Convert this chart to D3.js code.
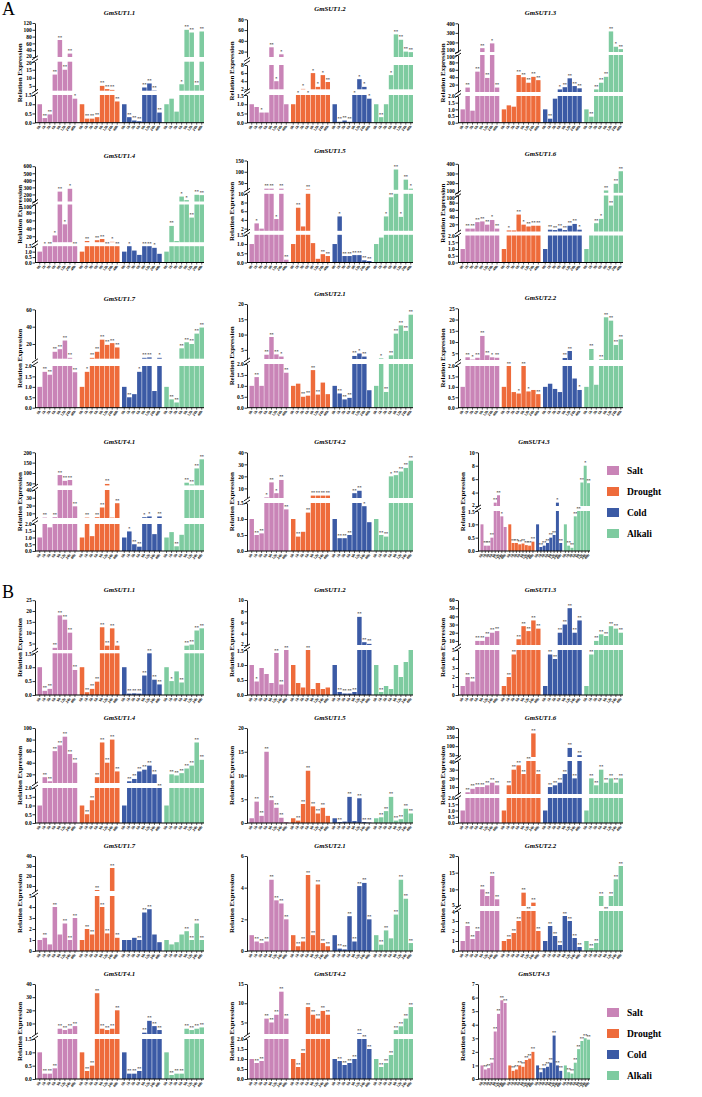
<!DOCTYPE html>
<html lang="en">
<head>
<meta charset="utf-8">
<script src="https://cdnjs.cloudflare.com/ajax/libs/d3/7.8.5/d3.min.js"></script>
<style>
    body { margin: 0; background: #fff; }
    svg text { font-family: "Liberation Serif", "DejaVu Serif", serif; }
</style>
</head>
<body>
<svg id="chart"></svg>
<script>
    const width = 702;
    const height = 1097;

    const groups = ['Salt', 'Drought', 'Cold', 'Alkali'];
    const colors = ['#c984b7', '#ee6b3b', '#3b5aa5', '#7ecba0'];
    const times = ['0h', '1h', '3h', '6h', '9h', '12h', '24h', '48h'];
    const genes = ['GmSUT1.1', 'GmSUT1.2', 'GmSUT1.3', 'GmSUT1.4', 'GmSUT1.5', 'GmSUT1.6',
                   'GmSUT1.7', 'GmSUT2.1', 'GmSUT2.2', 'GmSUT4.1', 'GmSUT4.2', 'GmSUT4.3'];

    // ---- section A values: [salt, drought, cold, alkali] ----
    const A11 = [[1.0, 0.25, 0.45, 12, 70, 15, 30, 1.3], [1.0, 0.22, 0.22, 0.3, 5, 3, 2.5, 1.15],
                 [1.0, 0.3, 0.12, 0.08, 4, 6.5, 2.2, 0.55], [1.0, 1.3, 0.6, 6, 100, 92, 5.5, 95]];
    const A12 = [[1.0, 0.85, 0.55, 0.55, 28, 4, 15, 1.0], [1.0, 1.8, 2.1, 1.9, 6, 2.6, 5.5, 3.8],
                 [1.0, 0.05, 0.12, 0.05, 2, 4.5, 2.6, 1.3], [1.0, 0.3, 1.0, 5.5, 52, 42, 20, 19]];
    const A13 = [[1.0, 12, 0.9, 55, 140, 38, 190, 12], [1.0, 1.3, 1.2, 46, 40, 25, 41, 32],
                 [1.0, 0.3, 1.8, 7, 13, 37, 16, 10], [1.0, 0.45, 7, 25, 41, 315, 155, 130]];
    const A14 = [[1.0, 5, 4, 22, 240, 50, 280, 2], [1.0, 8, 5, 10, 13, 5, 6, 5],
                 [1.0, 3, 1.1, 0.7, 4, 4.5, 1.35, 0.8], [1.0, 46, 8, 170, 120, 67, 195, 190]];
    const A15 = [[1.0, 3.2, 2.0, 25, 25, 4.2, 25, 0.15], [1.0, 6.8, 2.5, 22, 1.05, 0.2, 0.45, 0.35],
                 [1.0, 4.8, 0.35, 0.35, 0.4, 0.4, 0.12, 0.08], [1.0, 1.35, 4.8, 9.2, 110, 4.7, 65, 25]];
    const A16 = [[1.0, 8, 8, 26, 28, 19, 32, 8], [1.0, 3, 3, 47, 19, 14, 16, 16],
                 [1.0, 5, 4, 8, 4, 16, 21, 5], [1.0, 2, 23, 35, 124, 72, 193, 323]];
    const A17 = [[1.0, 1.72, 1.58, 11, 14, 24, 4, 1.7], [1.0, 1.72, 4, 11, 25, 19, 21, 16],
                 [1.0, 0.5, 0.65, 1.72, 4, 4.5, 0.8, 4], [1.0, 0.4, 0.25, 15, 22, 20, 32, 39]];
    const A21 = [[1.0, 1.4, 1.0, 3.4, 9.2, 3.5, 2.8, 1.6], [1.0, 1.1, 0.5, 0.55, 1.72, 0.6, 1.15, 0.62],
                 [1.0, 0.65, 0.38, 0.45, 3.0, 3.8, 2.8, 0.8], [1.0, 2.2, 0.72, 3.2, 10.3, 13, 11.2, 16.5]];
    const A22 = [[1.0, 3.2, 2.2, 3.0, 12.7, 4.1, 3.2, 3.0], [1.0, 2.0, 0.75, 0.68, 2.0, 0.78, 0.85, 0.65],
                 [1.0, 1.15, 0.9, 0.75, 2.9, 6, 1.4, 0.85], [1.0, 6.9, 1.1, 2.3, 21, 19.5, 8.7, 11.2]];
    const A41 = [[1.0, 4.5, 1.75, 5, 90, 62, 66, 19], [1.0, 4.5, 1.1, 5, 17.5, 47, 4.5, 23],
                 [1.0, 1.45, 0.5, 0.32, 5, 6, 1.25, 6], [1.0, 1.4, 0.35, 1.2, 53, 45, 122, 166]];
    const A42 = [[1.0, 0.5, 0.55, 2.5, 15, 6, 17, 1.3], [1.0, 0.45, 0.6, 1.2, 4, 4, 4, 4],
                 [1.0, 0.4, 0.4, 0.5, 6, 8, 1.4, 0.9], [1.0, 0.5, 0.45, 20, 21, 24, 27, 33]];
    const A43 = [[1.0, 0.2, 0.2, 0.5, 2.5, 3.6, 1.3, 0.9], [1.0, 0.3, 0.3, 0.25, 0.28, 0.22, 0.2, 0.35],
                 [1.0, 0.15, 0.2, 0.3, 0.5, 0.6, 2.5, 0.3], [1.0, 0.2, 0.12, 1.3, 1.5, 5.5, 8, 5.4]];

    // ---- section B values ----
    const B11 = [[1.0, 0.15, 0.22, 3, 18, 16, 10, 0.9], [1.0, 0.1, 0.22, 0.48, 12.5, 4, 12, 4],
                 [1.0, 0.05, 0.06, 0.05, 0.7, 2, 0.55, 0.38], [1.0, 0.5, 0.85, 0.45, 4, 4.5, 11, 12]];
    const B12 = [[1.0, 0.45, 0.9, 0.7, 0.4, 1.4, 0.35, 1.5], [1.0, 0.4, 0.25, 1.6, 0.2, 0.4, 0.2, 0.25],
                 [1.0, 0.1, 0.05, 0.05, 0.1, 7, 2.5, 2.2], [1.0, 0.1, 0.3, 0.2, 1.0, 0.6, 1.1, 1.5]];
    const B13 = [[1.0, 2, 1.5, 10, 10, 15, 20, 22], [1.0, 2, 4.5, 12, 28, 22, 35, 25],
                 [1.0, 4.5, 4, 20, 30, 50, 20, 35], [1.0, 4.5, 10, 18, 16, 28, 25, 20]];
    const B14 = [[1.0, 15, 8, 60, 70, 85, 55, 40], [1.0, 0.5, 1.3, 15, 75, 40, 80, 25],
                 [1.0, 8, 12, 25, 28, 35, 20, 5], [1.0, 20, 18, 22, 30, 35, 75, 45]];
    const B15 = [[1.0, 4.5, 1.5, 15, 4.8, 3.2, 1.1, 0.2], [1.0, 0.5, 4, 11, 3.5, 2, 3.2, 1.5],
                 [1.0, 0.2, 0.3, 5.5, 0.4, 5.2, 0.2, 0.1], [1.0, 1.2, 2.5, 5.5, 0.5, 0.8, 3, 2]];
    const B16 = [[1.0, 4, 8, 10, 10, 12, 15, 12], [1.0, 12, 30, 35, 25, 40, 170, 25],
                 [1.0, 10, 12, 15, 25, 90, 20, 50], [1.0, 20, 12, 30, 15, 20, 15, 20]];
    const B17 = [[1.0, 1.2, 0.6, 4, 1.5, 2.5, 1, 3], [1.0, 2, 1.5, 6, 4, 1.6, 28, 1.2],
                 [1.0, 1.0, 1.2, 1.0, 3.5, 3.8, 1.5, 0.8], [1.0, 0.6, 0.8, 1.5, 1.8, 1.0, 2.5, 1.0]];
    const B21 = [[1.0, 0.6, 0.5, 0.6, 4.5, 3.2, 3.0, 2.0], [1.0, 0.3, 0.6, 4.8, 1.0, 4.2, 0.5, 0.3],
                 [1.0, 0.15, 0.1, 2.2, 0.6, 4.1, 4.3, 2.0], [1.0, 0.4, 1.3, 0.8, 2.3, 4.5, 3.3, 0.5]];
    const B22 = [[1.0, 2.5, 1.2, 2, 10, 8, 14, 7], [1.0, 1.2, 1.8, 3, 9, 5, 6, 2],
                 [1.0, 2.5, 1.5, 0.6, 3.5, 3.0, 1.3, 0.4], [1.0, 0.3, 0.8, 8, 4, 8, 13, 17]];
    const B41 = [[1.0, 0.2, 0.2, 0.4, 6, 5, 6, 8], [1.0, 0.3, 0.5, 33, 6, 5, 6, 20],
                 [1.0, 0.2, 0.2, 0.3, 3, 12, 8, 5], [1.0, 0.15, 0.2, 0.2, 6, 5, 6, 7]];
    const B42 = [[1.0, 0.8, 0.9, 6, 5, 7, 13, 6], [1.0, 0.6, 1.3, 9, 7, 6, 8, 7],
                 [1.0, 0.9, 0.7, 0.8, 1.0, 2.2, 2.0, 1.5], [1.0, 0.6, 0.8, 1.2, 3, 4, 6, 9]];
    const B43 = [[1.0, 0.7, 0.8, 1.2, 3.5, 4.8, 5.8, 5.6], [1.0, 0.6, 0.7, 1.0, 0.9, 1.4, 1.5, 2.0],
                 [1.0, 0.5, 0.8, 0.9, 1.2, 3.2, 1.0, 0.6], [1.0, 0.5, 0.4, 1.2, 2.2, 2.8, 3.0, 2.9]];

    // significance per bar: 0 none, 1 '*', 2 '**'
    const sigA = ['02222221 02222222 02222222 00012222', '00102110 01111112 02221111 02012222',
                  '02022212 00022222 02012222 02222212', '01212112 02022212 01002210 02011222',
                  '01022122 02020022 01222222 00122121', '02222212 01021222 02222221 00212222',
                  '02222222 01222222 02012201 02222222', '02022212 00222200 02222120 01222222',
                  '02122212 02012102 00002201 02022222', '02022222 02022202 01221102 00202222',
                  '02212122 02022222 02222210 02212222', '02222210 02222222 02222212 02222212'];
    const sigB = ['02222222 02222221 02222222 01022222', '01000222 00020000 02222222 02000000',
                  '02222222 02222222 02222222 02222222', '02222222 02222222 02222222 02222222',
                  '02222220 02222220 02020222 02222222', '02222222 02222222 02222222 02222222',
                  '02020222 02222222 00022200 00002222', '02222222 02222222 02222222 02202222',
                  '02222222 02222222 02222222 02222222', '02222222 02222222 02222222 02222222',
                  '02222222 02222222 02222222 02222222', '02222222 02222222 02222222 02222222'];

    // y axis pieces: [low, high, tick values]
    const axisA = [
        [[0, 1.5, [0, 0.5, 1, 1.5]], [2, 20, [5, 10, 15, 20]], [20, 120, [20, 40, 60, 80, 100, 120]]],
        [[0, 1.5, [0, 0.5, 1, 1.5]], [2, 8, [2, 4, 6, 8]], [10, 80, [20, 40, 60, 80]]],
        [[0, 2, [0, 0.5, 1, 1.5, 2]], [0, 100, [20, 40, 60, 80, 100]], [100, 400, [100, 200, 300, 400]]],
        [[0, 1.5, [0, 0.5, 1, 1.5]], [5, 100, [20, 40, 60, 80, 100]], [100, 600, [100, 200, 300, 400, 500, 600]]],
        [[0, 1.5, [0, 0.5, 1, 1.5]], [1.5, 10, [2, 4, 6, 8, 10]], [20, 150, [50, 100, 150]]],
        [[0, 2, [0, 0.5, 1, 1.5, 2]], [0, 100, [20, 40, 60, 80, 100]], [100, 400, [100, 200, 300, 400]]],
        [[0, 2, [0, 0.5, 1, 1.5, 2]], [3, 60, [20, 40, 60]]],
        [[0, 2, [0, 0.5, 1, 1.5, 2]], [2, 20, [5, 10, 15, 20]]],
        [[0, 2, [0, 0.5, 1, 1.5, 2]], [2, 25, [5, 10, 15, 20, 25]]],
        [[0, 2, [0, 0.5, 1, 1.5, 2]], [4, 40, [10, 20, 30, 40]], [40, 200, [50, 100, 150, 200]]],
        [[0, 1.5, [0, 0.5, 1, 1.5]], [2, 40, [10, 20, 30, 40]]],
        [[0, 1.5, [0, 0.5, 1, 1.5]], [2, 10, [2, 4, 6, 8, 10]]]
    ];
    const axisB = [
        [[0, 1.5, [0, 0.5, 1, 1.5]], [2, 25, [5, 10, 15, 20, 25]]],
        [[0, 1.5, [0, 0.5, 1, 1.5]], [2, 10, [2, 4, 6, 8, 10]]],
        [[0, 5, [0, 1, 2, 3, 4, 5]], [5, 60, [10, 20, 30, 40, 50, 60]]],
        [[0, 2, [0, 0.5, 1, 1.5, 2]], [5, 100, [20, 40, 60, 80, 100]]],
        [[0, 20, [0, 5, 10, 15, 20]]],
        [[0, 2, [0, 0.5, 1, 1.5, 2]], [2, 40, [10, 20, 30, 40]], [40, 200, [50, 100, 150, 200]]],
        [[0, 5, [0, 1, 2, 3, 4, 5]], [5, 40, [10, 20, 30, 40]]],
        [[0, 6, [0, 2, 4, 6]]],
        [[0, 4, [0, 1, 2, 3, 4]], [5, 20, [5, 10, 15, 20]]],
        [[0, 1.5, [0, 0.5, 1, 1.5]], [2, 40, [10, 20, 30, 40]]],
        [[0, 2, [0, 0.5, 1, 1.5, 2]], [2, 15, [5, 10, 15]]],
        [[0, 7, [0, 1, 2, 3, 4, 5, 6, 7]]]
    ];

    // ---- layout (pixels) ----
    // pixel extent of every axis piece, measured up from the x axis
    const segA = [
        [[0, 27.7], [32, 61], [65.7, 99.7]], [[0, 27.7], [33.4, 57.7], [65.7, 103.4]],
        [[0, 26.7], [30.7, 67.7], [70.7, 99.4]], [[0, 16.3], [20.3, 58], [61, 96.3]],
        [[0, 27.7], [31.7, 68.7], [72.7, 102]], [[0, 27], [31, 67], [69.7, 98.7]],
        [[0, 41.7], [49, 98.3]], [[0, 43.7], [48.7, 103.7]], [[0, 41.7], [47.7, 99.4]],
        [[0, 27], [33, 61], [65.6, 98.7]], [[0, 48], [53, 98.7]], [[0, 40], [45, 98.7]]
    ];
    const segB = [
        [[0, 41.7], [45, 94.8]], [[0, 45], [50, 95]], [[0, 45], [50, 95]], [[0, 35], [40, 95]],
        [[0, 95]], [[0, 25], [29, 62], [66, 95]], [[0, 55], [60, 95]], [[0, 95]],
        [[0, 40], [45, 95]], [[0, 40], [45, 95]], [[0, 40], [45, 95]], [[0, 95]]
    ];
    const colX = [35, 247, 458];
    const colW = [169, 166, 165];
    const rowBottomA = [122.7, 262.5, 407.7, 551];
    const rowBottomB = [695, 823, 951, 1079];

    const svg = d3.select('#chart').attr('width', width).attr('height', height);
    svg.append('rect').attr('width', width).attr('height', height).attr('fill', '#fff');

    const drawPanel = (name, vals, sig, axis, seg, x0, w, yb) => {
        const g = svg.append('g');
        const pieces = axis.map((a, i) => ({
            lo: a[0], hi: a[1], ticks: a[2],
            y: d3.scaleLinear().domain([a[0], a[1]]).range([yb - seg[i][0], yb - seg[i][1]])
        }));
        const top = yb - seg[seg.length - 1][1];
        const xg = d3.scaleBand().domain(groups).range([x0 + 2.5, x0 + w]).paddingInner(0.06);
        const xb = d3.scaleBand().domain(times).range([0, xg.bandwidth()]).paddingInner(0.1);
        const marks = sig.split(' ');

        g.append('text')
            .attr('x', x0 + w / 2).attr('y', top - 8)
            .attr('text-anchor', 'middle')
            .attr('font-size', 6.8).attr('font-style', 'italic').attr('font-weight', 'bold')
            .text(name);

        groups.forEach((grp, gi) => {
            vals[gi].forEach((v, ti) => {
                const bx = xg(grp) + xb(times[ti]);
                let topY = yb;
                pieces.forEach((p, pi) => {
                    if (pi > 0 && (v <= pieces[pi - 1].hi || v <= p.lo)) return;
                    const vt = Math.min(v, p.hi);
                    g.append('rect')
                        .attr('x', bx).attr('width', xb.bandwidth())
                        .attr('y', p.y(vt)).attr('height', p.y(p.lo) - p.y(vt))
                        .attr('fill', colors[gi]);
                    topY = p.y(vt);
                });
                const m = marks[gi][ti];
                if (m !== '0') {
                    g.append('text')
                        .attr('x', bx + xb.bandwidth() / 2).attr('y', topY - 1.5)
                        .attr('text-anchor', 'middle')
                        .attr('font-size', 4.2).attr('font-weight', 'bold')
                        .attr('fill', '#333')
                        .text(m === '1' ? '*' : '**');
                }
                // x tick + label
                const cx = bx + xb.bandwidth() / 2;
                g.append('line').attr('x1', cx).attr('x2', cx).attr('y1', yb).attr('y2', yb + 2)
                    .attr('stroke', '#000').attr('stroke-width', 0.6);
                g.append('text')
                    .attr('transform', `translate(${cx + 1},${yb + 4}) rotate(-50)`)
                    .attr('text-anchor', 'end')
                    .attr('font-size', 3.8).attr('font-weight', 'bold')
                    .text(times[ti]);
            });
        });

        // y axis pieces
        const axes = pieces.map((p) => {
            const fmt = p.hi <= 2 ? d3.format('.1f') : d3.format('d');
            const ax = g.append('g')
                .attr('transform', `translate(${x0},0)`)
                .call(d3.axisLeft(p.y).tickValues(p.ticks).tickSize(2.5).tickSizeOuter(0).tickFormat(fmt));
            ax.select('.domain').attr('stroke-width', 0.9);
            ax.selectAll('.tick line').attr('stroke-width', 0.8);
            ax.selectAll('.tick text').attr('x', -3.2).attr('dy', '0.32em')
                .attr('font-size', 5.5).attr('font-weight', 'bold')
                .attr('font-family', '"Liberation Serif", serif');
            return ax;
        });

        // keep stacked labels at a break from running into each other
        for (let i = 0; i < pieces.length - 1; i++) {
            const hiTick = d3.max(pieces[i].ticks);
            const loTick = d3.min(pieces[i + 1].ticks);
            const gapPx = pieces[i].y(hiTick) - pieces[i + 1].y(loTick);
            if (gapPx < 6.6) {
                const s = (6.6 - gapPx) / 2;
                axes[i].selectAll('.tick text').filter((d) => d === hiTick)
                    .attr('transform', `translate(0,${s})`);
                axes[i + 1].selectAll('.tick text').filter((d) => d === loTick)
                    .attr('transform', `translate(0,${-s})`);
            }
        }

        // break marks
        for (let i = 0; i < pieces.length - 1; i++) {
            const yc = (pieces[i].y(pieces[i].hi) + pieces[i + 1].y(pieces[i + 1].lo)) / 2;
            [-1.6, 1.6].forEach((d) => {
                g.append('line')
                    .attr('x1', x0 - 3).attr('y1', yc + d + 2)
                    .attr('x2', x0 + 3).attr('y2', yc + d - 2)
                    .attr('stroke', '#000').attr('stroke-width', 0.9);
            });
        }

        // x axis
        g.append('line').attr('x1', x0).attr('x2', x0 + w).attr('y1', yb).attr('y2', yb)
            .attr('stroke', '#000').attr('stroke-width', 1);

        g.append('text')
            .attr('transform', `translate(${x0 - 13},${(top + yb) / 2}) rotate(-90)`)
            .attr('text-anchor', 'middle')
            .attr('font-size', 6.9).attr('font-weight', 'bold')
            .text('Relation Expression');
    };

    const drawSection = (vals, sigs, axes, segs, bottoms) => {
        vals.forEach((v, i) => {
            const row = Math.floor(i / 3), col = i % 3;
            let x0 = colX[col], w = colW[col];
            if (row === 3 && col === 2) { x0 = 478; w = 112; }
            drawPanel(genes[i], v, sigs[i], axes[i], segs[i], x0, w, bottoms[row]);
        });
    };

    drawSection([A11, A12, A13, A14, A15, A16, A17, A21, A22, A41, A42, A43], sigA, axisA, segA, rowBottomA);
    drawSection([B11, B12, B13, B14, B15, B16, B17, B21, B22, B41, B42, B43], sigB, axisB, segB, rowBottomB);

    // section letters
    svg.append('text').attr('x', 2).attr('y', 15).attr('font-size', 18).text('A');
    svg.append('text').attr('x', 2).attr('y', 598).attr('font-size', 18).text('B');

    // legends
    const drawLegend = (y0) => {
        groups.forEach((grp, i) => {
            svg.append('rect').attr('x', 607).attr('y', y0 + i * 21).attr('width', 12).attr('height', 9)
                .attr('fill', colors[i]);
            svg.append('text').attr('x', 627).attr('y', y0 + i * 21 + 8)
                .attr('font-size', 9.5).attr('font-weight', 'bold').text(grp);
        });
    };
    drawLegend(466);
    drawLegend(1008);
</script>
</body>
</html>
